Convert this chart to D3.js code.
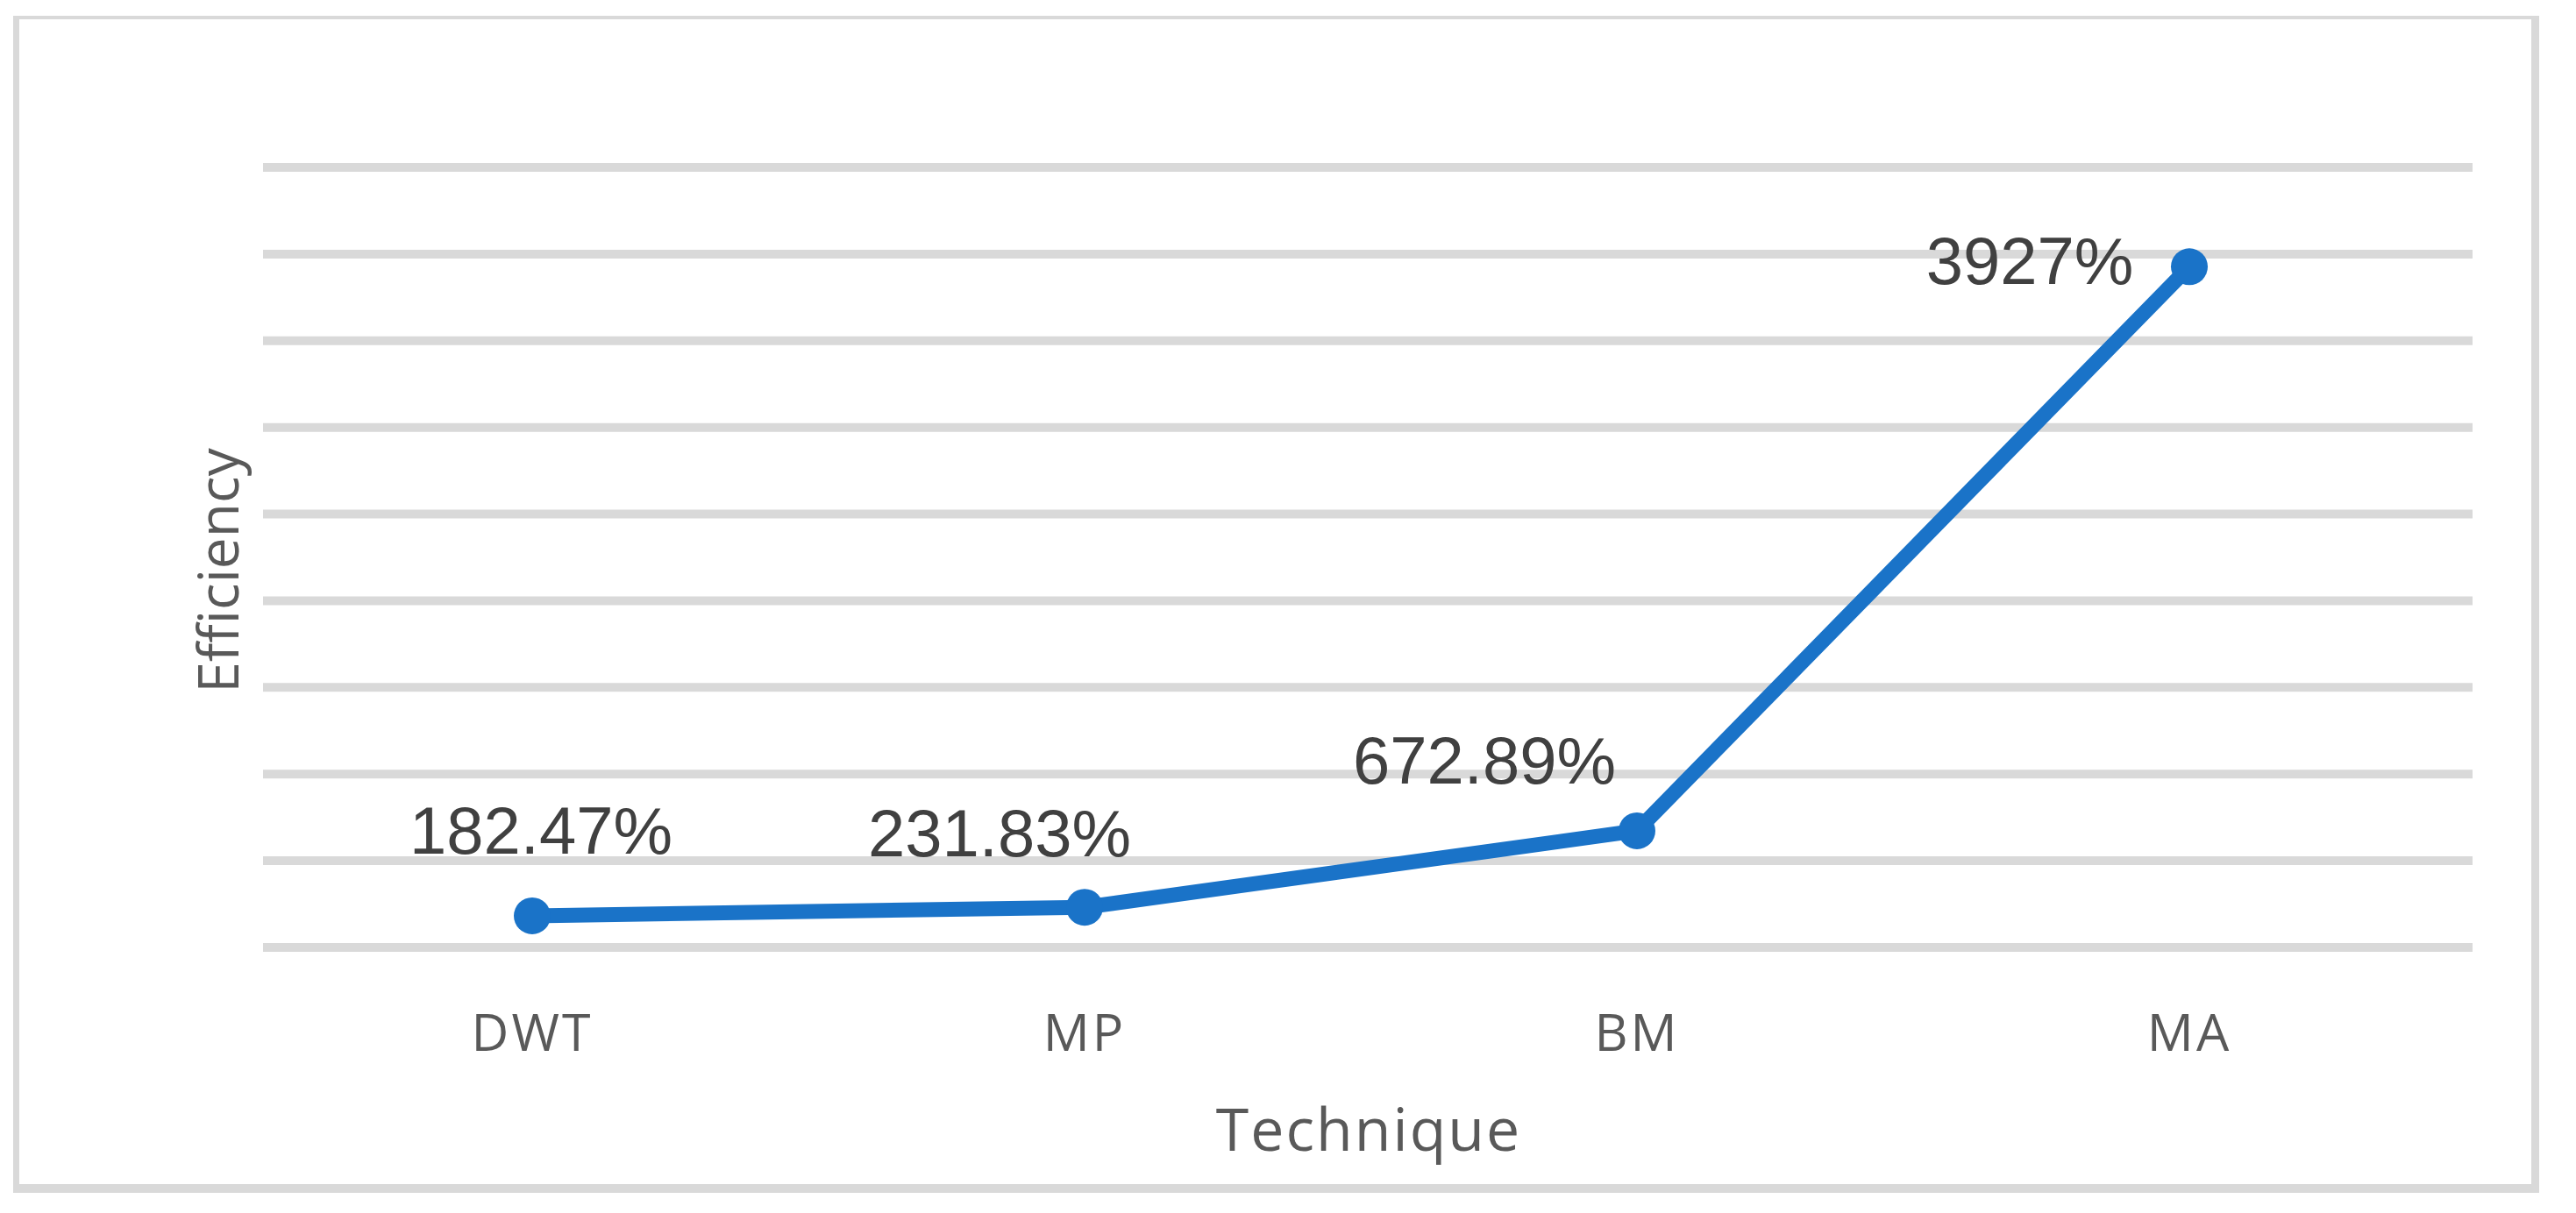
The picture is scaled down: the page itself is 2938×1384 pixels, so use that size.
<!DOCTYPE html>
<html>
<head>
<meta charset="utf-8">
<script src="https://cdn.jsdelivr.net/npm/d3@7"></script>
<style>
  html, body { margin: 0; padding: 0; background: #ffffff; }
  svg { display: block; }
</style>
</head>
<body>
<script>
// ---- data ----
const categories = ["DWT", "MP", "BM", "MA"];
const efficiency = [182.47, 231.83, 672.89, 3927];
const valueLabels = ["182.47%", "231.83%", "672.89%", "3927%"];
const yTicks = [0, 500, 1000, 1500, 2000, 2500, 3000, 3500, 4000, 4500];
const xAxisTitle = "Technique";
const yAxisTitle = "Efficiency";

// ---- layout (not data) ----
const W = 2938, H = 1384;
const plot = { left: 292, right: 2812, top: 191, bottom: 1081 };
const labelOffsets = [[10, -71], [-97, -58], [-174, -54], [-182, 20]];

const svg = d3.select("body").append("svg").attr("width", W).attr("height", H);

// frame
svg.append("rect").attr("x", 15).attr("y", 18).attr("width", 2896 - 15).attr("height", 1361 - 18).attr("fill", "#d9d9d9");
svg.append("rect").attr("x", 22).attr("y", 22).attr("width", 2887 - 22).attr("height", 1351 - 22).attr("fill", "#ffffff");

const x = d3.scaleBand().domain(categories).range([plot.left, plot.right]).padding(0);
const y = d3.scaleLinear().domain([0, 4500]).range([plot.bottom, plot.top]);

// gridlines
svg.append("g").selectAll("line").data(yTicks).join("line")
  .attr("x1", plot.left + 8).attr("x2", plot.right + 8)
  .attr("y1", d => y(d)).attr("y2", d => y(d))
  .attr("stroke", "#d9d9d9").attr("stroke-width", 10);

// x axis labels
const xAxis = d3.axisBottom(x).tickSize(0).tickPadding(0);
const gx = svg.append("g").attr("transform", `translate(0, ${plot.bottom})`).call(xAxis);
gx.select(".domain").remove();
gx.selectAll("text")
  .attr("y", 118).attr("dy", 0)
  .attr("fill", "#595959")
  .style("font-family", "'Open Sans', sans-serif")
  .style("font-size", "59px")
  .style("letter-spacing", "3px");

// axis titles
svg.append("text")
  .attr("x", 1561).attr("y", 1313)
  .attr("text-anchor", "middle")
  .attr("fill", "#595959")
  .style("font-family", "'Open Sans', sans-serif")
  .style("font-size", "68px")
  .style("letter-spacing", "2px")
  .text(xAxisTitle);

svg.append("text")
  .attr("transform", `translate(272, ${(plot.top + plot.bottom) / 2 + 15}) rotate(-90)`)
  .attr("text-anchor", "middle")
  .attr("fill", "#595959")
  .style("font-family", "'Open Sans', sans-serif")
  .style("font-size", "64px")
  .text(yAxisTitle);

// line
const pts = categories.map((c, i) => ({ c, v: efficiency[i], label: valueLabels[i], off: labelOffsets[i] }));
const line = d3.line().x(d => x(d.c) + x.bandwidth() / 2).y(d => y(d.v));
svg.append("path").datum(pts)
  .attr("d", line)
  .attr("fill", "none")
  .attr("stroke", "#1a73c8")
  .attr("stroke-width", 17)
  .attr("stroke-linejoin", "round");

svg.append("g").selectAll("circle").data(pts).join("circle")
  .attr("cx", d => x(d.c) + x.bandwidth() / 2)
  .attr("cy", d => y(d.v))
  .attr("r", 21)
  .attr("fill", "#1a73c8");

// data labels
svg.append("g").selectAll("text").data(pts).join("text")
  .attr("x", d => x(d.c) + x.bandwidth() / 2 + d.off[0])
  .attr("y", d => y(d.v) + d.off[1])
  .attr("text-anchor", "middle")
  .attr("fill", "#404040")
  .style("font-family", "'Liberation Sans', Arial, sans-serif")
  .style("font-size", "76px")
  .text(d => d.label);
</script>
</body>
</html>
